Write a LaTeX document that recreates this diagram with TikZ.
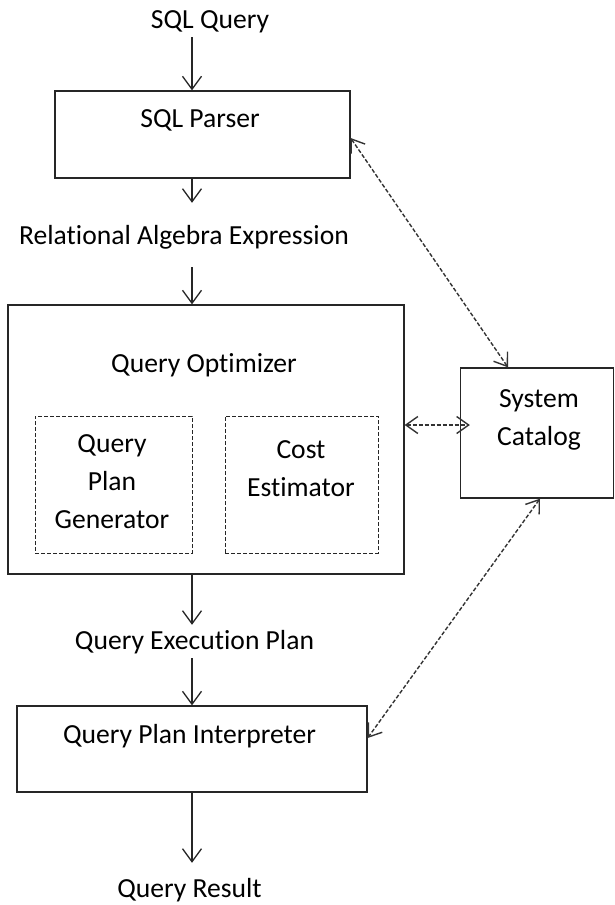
\documentclass[tikz,border=0pt]{standalone}
\usepackage{fontspec}
\setmainfont{Carlito}[Ligatures=NoCommon]
\usetikzlibrary{arrows.meta}

\begin{document}
\begin{tikzpicture}[x=1pt, y=-1pt,
    box/.style = {draw=black!85, line width=1.3pt, rectangle, inner sep=0pt},
    dbox/.style = {draw=black!85, line width=1pt, dash pattern=on 4pt off 2pt, rectangle, inner sep=0pt},
    lbl/.style = {inner sep=0pt, font=\fontsize{27.6}{38}\selectfont, text height=19pt, text depth=6pt},
    mlbl/.style = {inner sep=0pt, font=\fontsize{27.6}{38}\selectfont, align=center},
    flow/.style = {draw=black!85, line width=1.3pt, -{Straight Barb[length=13pt,width=19pt]}},
    link/.style = {draw=black!80, line width=1.4pt, dash pattern=on 4pt off 2pt, {Straight Barb[length=12pt,width=17pt]}-{Straight Barb[length=12pt,width=17pt]}}]
    \useasboundingbox (0,0) rectangle (615,905);
    \coordinate (spine) at (192,0);
    \node[lbl, anchor=base] (sql) at (210,28) {SQL Query};
    \node[box, minimum width=295pt, minimum height=87pt] (parser) at (202.5,134.5) {};
    \node[lbl, anchor=base] (parsertxt) at (200,127) {SQL Parser};
    \node[lbl, anchor=base] (rae) at (184,244) {Relational Algebra Expression};
    \node[box, minimum width=396pt, minimum height=269pt] (optimizer) at (206,439.5) {};
    \node[lbl, anchor=base] (optimizertxt) at (204,372) {Query Optimizer};
    \node[dbox, minimum width=157pt, minimum height=137pt] (qpg) at (113.5,484.5) {};
    \node[mlbl, anchor=base] (qpgtxt) at (112,528) {Query\\Plan\\Generator};
    \node[dbox, minimum width=153pt, minimum height=137pt] (cost) at (301.5,484.5) {};
    \node[mlbl, anchor=base] (costtxt) at (301,496) {Cost\\Estimator};
    \node[box, minimum width=153pt, minimum height=130pt] (catalog) at (537,433) {};
    \node[mlbl, anchor=base] (catalogtxt) at (539,445) {System\\Catalog};
    \node[lbl, anchor=base] (qep) at (194.5,649) {Query Execution Plan};
    \node[box, minimum width=350pt, minimum height=86pt] (interp) at (192,749) {};
    \node[lbl, anchor=base] (interptxt) at (189.5,743) {Query Plan Interpreter};
    \node[lbl, anchor=base] (result) at (189.5,897) {Query Result};

    \draw[flow, shorten <=3pt] (sql.south -| spine) -- (parser.north -| spine);
    \draw[flow, shorten >=22pt] (parser.south -| spine) -- (rae.north -| spine);
    \draw[flow, shorten <=17pt] (rae.south -| spine) -- (optimizer.north -| spine);
    \draw[flow, shorten >=5pt] (optimizer.south -| spine) -- (qep.north -| spine);
    \draw[flow, shorten <=3pt] (qep.south -| spine) -- (interp.north -| spine);
    \draw[flow, shorten >=15pt] (interp.south -| spine) -- (result.north -| spine);

    \draw[link] ([yshift=-3.5pt]parser.east) -- ([xshift=-29pt]catalog.north);
    \draw[link, shorten >=-10pt] ([yshift=14.5pt]optimizer.east) -- ([yshift=8pt]catalog.west);
    \draw[link] ([xshift=3pt]catalog.south) -- ([yshift=11pt]interp.east);
\end{tikzpicture}
\end{document}
